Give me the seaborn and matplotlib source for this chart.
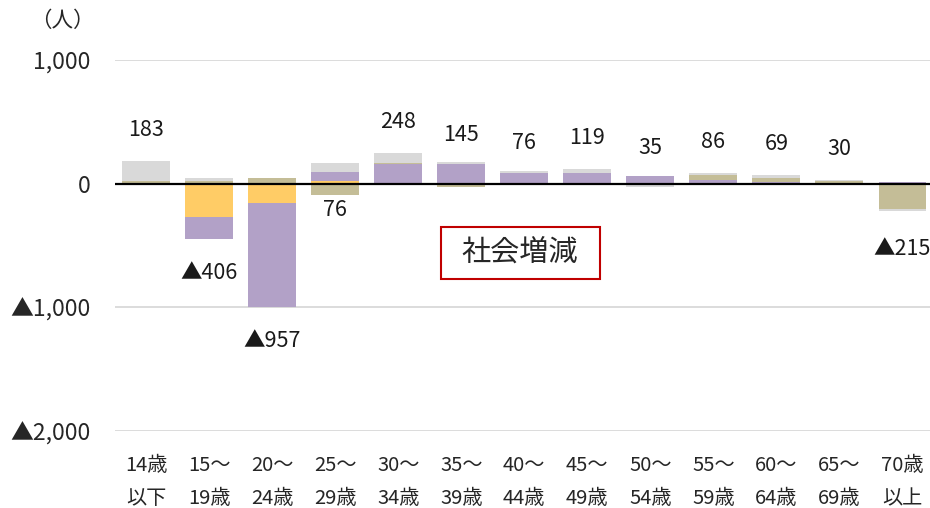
import numpy as np
import matplotlib
matplotlib.use("Agg")
import matplotlib.pyplot as plt
import seaborn as sns
from matplotlib.patches import Rectangle

# ---- data ----
categories = ["14歳\n以下", "15～\n19歳", "20～\n24歳", "25～\n29歳", "30～\n34歳",
              "35～\n39歳", "40～\n44歳", "45～\n49歳", "50～\n54歳", "55～\n59歳",
              "60～\n64歳", "65～\n69歳", "70歳\n以上"]
series_a = [0, -268, -160, 20, 0, 0, 0, 0, 0, 0, 0, 0, 0]           # yellow
series_b = [0, -181, -835, 73, 157, 157, 90, 89, 62, 27, 17, 0, 10]  # purple
series_c = [22, 25, 48, -95, 12, -28, 0, 0, 0, 45, 30, 21, -205]     # khaki
series_d = [161, 18, -10, 78, 79, 16, 16, 30, -27, 14, 22, 9, -20]   # gray
net_labels = [183, -406, -957, 76, 248, 145, 76, 119, 35, 86, 69, 30, -215]
label_below = ["25～\n29歳"]
yticks = [1000, 0, -1000, -2000]
ytick_labels = ["1,000", "0", "▲1,000", "▲2,000"]
unit_label = "（人）"
box_label = "社会増減"

colors = ["#FFCC66", "#B2A1C7", "#C4BD97", "#D9D9D9"]

sns.set_style("white")
plt.rcParams["font.family"] = ["Noto Sans CJK JP", "DejaVu Sans"]

fig = plt.figure(figsize=(9.3, 5.08), dpi=100)
ax = fig.add_axes([114.5 / 930, 77 / 508, 819.5 / 930, 371 / 508])

layers = [series_a, series_b, series_c, series_d]
n = len(categories)
pos_cum = np.zeros(n)
neg_cum = np.zeros(n)
cums = []
for vals, col in zip(layers, colors):
    v = np.array(vals, dtype=float)
    pos_cum = pos_cum + np.clip(v, 0, None)
    neg_cum = neg_cum + np.clip(v, None, 0)
    cums.append((pos_cum.copy(), neg_cum.copy(), col))

for pos, neg, col in reversed(cums):
    for vals in (pos, neg):
        sns.barplot(x=categories, y=vals, color=col, saturation=1, width=0.76,
                    errorbar=None, ax=ax, zorder=2, linewidth=0, edgecolor="none")

ax.set_ylim(-2000, 1000)
ax.set_xlim(-0.5, n - 0.5)
ax.set_yticks(yticks)
ax.set_yticklabels(ytick_labels, fontsize=16.5)
ax.tick_params(axis="y", length=0, pad=17.5)
ax.tick_params(axis="x", length=0, pad=17.5, labelsize=14.5)
for t in ax.get_xticklabels():
    t.set_linespacing(1.75)
ax.set_xlabel("")
ax.set_ylabel("")
for s in ax.spines.values():
    s.set_visible(False)
ax.yaxis.grid(True, color="#D9D9D9", lw=1.3)
ax.set_axisbelow(True)
ax.axhline(0, color="black", lw=1.6, zorder=3)

neg_total = cums[-1][1]
for i, (cat, v) in enumerate(zip(categories, net_labels)):
    txt = f"{v:,}" if v >= 0 else f"▲{-v:,}"
    if cat in label_below:
        y = neg_total[i] - 120
    elif v >= 0:
        y = v + 252
    else:
        y = v - 315
    ax.text(i, y, txt, ha="center", va="center", fontsize=15.5, color="#1a1a1a", zorder=4)

fig.text(62 / 930, 1 - 21 / 508, unit_label, ha="center", va="center", fontsize=15.5)

fig.patches.append(Rectangle((441 / 930, 1 - 278.5 / 508), 158.5 / 930, 51.5 / 508,
                             transform=fig.transFigure, fill=True, facecolor="white",
                             edgecolor="#C00000", lw=1.5, zorder=5))
fig.text(520 / 930, 1 - 252.5 / 508, box_label, ha="center", va="center",
         fontsize=21, zorder=6)

fig.savefig("out.png", dpi=100)
